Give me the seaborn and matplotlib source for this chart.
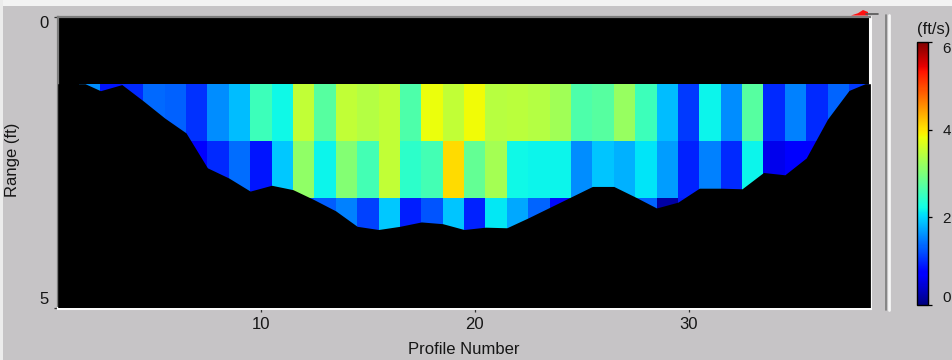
import numpy as np
import pandas as pd
import matplotlib
matplotlib.use("Agg")
import matplotlib.pyplot as plt
from matplotlib.transforms import Affine2D
from matplotlib.patches import Rectangle, Polygon
from matplotlib.lines import Line2D
import seaborn as sns

# ---------------------------------------------------------------- data
# Ensemble (profile) numbers that carry velocity cells
profiles = list(range(2, 39))

# Depth-cell geometry (ft): top of the first cell and cell height
first_bin_depth = 1.155
bin_size = 0.984

# Water speed (ft/s) for each depth cell; None = no valid measurement
cell1_velocity = [1.58, 0.87, 0.99, 1.36, 1.32, 1.05, 1.58, 1.87, 2.55, 2.22,
                  3.50, 2.74, 3.50, 3.42, 3.50, 2.65, 3.82, 3.50, 3.85, 3.44,
                  3.45, 3.40, 3.27, 2.65, 2.72, 3.20, 2.54, 1.87, 1.10, 2.20,
                  1.58, 2.74, 0.99, 1.52, 0.99, 1.34, 1.10]
cell2_velocity = [None, None, None, None, None, 0.72, 0.99, 1.40, 0.87, 1.93,
                  3.15, 2.20, 3.05, 2.60, 3.50, 2.42, 2.58, 4.07, 2.83, 3.30,
                  2.22, 2.20, 2.18, 1.58, 1.90, 1.80, 2.10, 1.68, 0.95, 1.52,
                  0.99, 2.20, 0.58, 0.68, 0.70, None, None]
cell3_velocity = [None, None, None, None, None, None, None, None, None, None,
                  1.20, 1.30, 1.52, 1.14, 1.93, 0.93, 1.25, 1.90, 0.95, 2.12,
                  1.75, 1.34, 0.80, None, None, None, 1.34, 0.20, 0.90, None,
                  None, None, None, None, None, None, None]

# Channel bed (ft below surface) along the profile axis
bed_profile = [0.5, 1.78, 2.5, 3.5, 4.5, 5.5, 6.5, 7.5, 8.5, 9.5, 10.5, 11.5,
               12.5, 13.5, 14.5, 15.5, 16.5, 17.5, 18.5, 19.5, 20.5, 21.5,
               22.5, 23.5, 24.5, 25.5, 26.5, 27.5, 28.5, 29.5, 30.5, 31.5,
               32.5, 33.5, 34.5, 35.5, 36.5, 37.5, 38.25, 38.5]
bed_depth = [1.155, 1.155, 1.275, 1.17, 1.45, 1.744, 2.00, 2.60, 2.775, 3.00,
             2.90, 2.975, 3.15, 3.34, 3.605, 3.66, 3.605, 3.53, 3.56, 3.66,
             3.62, 3.63, 3.46, 3.28, 3.10, 2.92, 2.92, 3.10, 3.29, 3.19,
             2.95, 2.95, 2.96, 2.68, 2.72, 2.43, 1.76, 1.27, 1.155, 1.155]

x_ticks = [10, 20, 30]
y_ticks = [0, 5]
speed_ticks = [0, 2, 4, 6]

# ---------------------------------------------------------------- style
W, H = 953, 360
BG = "#c6c4c6"
TXT = "#161616"
sns.set_theme(style="ticks")
plt.rcParams["font.family"] = ["Liberation Sans", "DejaVu Sans"]


def fx(px):
    return px / W


def fy(py):
    return 1 - py / H


velocity = pd.DataFrame(
    [cell1_velocity, cell2_velocity, cell3_velocity],
    columns=profiles, dtype=float,
)

fig = plt.figure(figsize=(W / 100, H / 100), dpi=100, facecolor=BG)
ax = fig.add_axes([fx(57.7), fy(307.5), fx(870.4) - fx(57.7), fy(16.5) - fy(307.5)])
cax = fig.add_axes([fx(917.3), fy(305), fx(928.3) - fx(917.3), fy(42.3) - fy(305)])

sns.heatmap(velocity, ax=ax, cbar_ax=cax, cmap="jet", vmin=0, vmax=6,
            mask=velocity.isna(), xticklabels=False, yticklabels=False)

# place the cell grid on (profile number, depth in ft) coordinates
mesh = ax.collections[0]
mesh.set_transform(
    Affine2D().scale(1.0, bin_size).translate(profiles[0] - 0.5, first_bin_depth)
    + ax.transData
)

# channel bed masks everything below it
ax.fill_between(bed_profile, bed_depth, 5, color="black", lw=0, zorder=3)

ax.set_facecolor("black")
ax.set_xlim(0.5, 38.5)
ax.set_ylim(5, 0)
ax.set_xticks(x_ticks)
ax.set_xticklabels([str(t) for t in x_ticks])
ax.set_yticks(y_ticks)
ax.set_yticklabels([str(t) for t in y_ticks])
ax.set_xlabel("")
ax.set_ylabel("")
ax.tick_params(axis="both", direction="out", length=3, width=0.9,
               color="#303030", labelcolor=TXT, labelsize=12, pad=3.5)
ylabs = ax.get_yticklabels()
ylabs[0].set_va("top")
ylabs[-1].set_va("bottom")

for side in ("top", "left"):
    ax.spines[side].set_visible(True)
    ax.spines[side].set_color("#7c7c7c")
    ax.spines[side].set_linewidth(1.6)
for side in ("bottom", "right"):
    ax.spines[side].set_visible(True)
    ax.spines[side].set_color("#fbfbfb")
    ax.spines[side].set_linewidth(2.2)

fig.text(fx(12.5), fy(160), "Range (ft)", rotation=90, ha="center", va="center",
         fontsize=12, color=TXT)
fig.text(fx(463.5), fy(349.5), "Profile Number", ha="center", va="center",
         fontsize=12, color=TXT)

# colour bar
cbar = mesh.colorbar
cbar.outline.set_visible(True)
cbar.outline.set_linewidth(1.0)
cbar.outline.set_edgecolor("black")
cbar.set_ticks(speed_ticks)
cbar.set_ticklabels([str(t) for t in speed_ticks])
cax.tick_params(axis="y", right=True, left=False, direction="out", length=3,
                width=0.9, color="black", labelcolor=TXT, labelsize=11, pad=7)
clabs = cax.get_yticklabels()
clabs[0].set_va("bottom")
clabs[-1].set_va("top")
fig.text(fx(934), fy(29.5), "(ft/s)", ha="center", va="center", fontsize=12,
         color=TXT)

# window furniture: light top strip, separator bar, marker
fig.add_artist(Rectangle((0, fy(6)), 1, 6 / H, transform=fig.transFigure,
                         facecolor="#f3f3f3", edgecolor="none", zorder=-5))
fig.add_artist(Rectangle((0, 0), fx(3), 1, transform=fig.transFigure,
                         facecolor="#ececec", edgecolor="none", zorder=-5))
fig.add_artist(Line2D([fx(886.5), fx(886.5)], [fy(15), fy(310)],
                      transform=fig.transFigure, color="#7a7a7a", lw=1.2))
fig.add_artist(Line2D([fx(889.5), fx(889.5)], [fy(15), fy(310)],
                      transform=fig.transFigure, color="#f6f6f6", lw=2.0))
fig.add_artist(Line2D([fx(866), fx(878)], [fy(13.5), fy(13.5)],
                      transform=fig.transFigure, color="#555555", lw=1.2))
fig.add_artist(Polygon([(fx(851), fy(15.5)), (fx(858), fy(13.2)),
                        (fx(863), fy(10)), (fx(868), fy(12)),
                        (fx(868), fy(15.5))],
                       closed=True, transform=fig.transFigure,
                       facecolor="#ff1010", edgecolor="none"))

fig.savefig("out.png", dpi=100, facecolor=BG)
